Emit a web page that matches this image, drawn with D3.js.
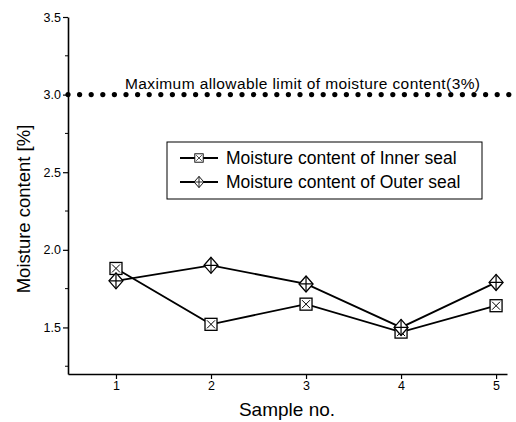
<!DOCTYPE html>
<head>
  <meta charset="utf-8">
  <script src="https://d3js.org/d3.v7.min.js"></script>
  <style>
    body { margin:0; background:#fff; }
    text { font-family: Arial, "Liberation Sans", sans-serif; fill:#000; }
  </style>
</head>
<body>
  <svg id="chart" width="516" height="422"></svg>
  <script>
    // data
    var samples = [1, 2, 3, 4, 5];
    var innerSeal = [1.88, 1.52, 1.65, 1.47, 1.64];
    var outerSeal = [1.80, 1.90, 1.78, 1.50, 1.79];
    var yTicks = [1.5, 2.0, 2.5, 3.0, 3.5];
    var yMinor = [1.25, 1.75, 2.25, 2.75, 3.25];
    var limitValue = 3.0;
    var limitLabel = "Maximum allowable limit of moisture content(3%)";
    var legendNames = ["Moisture content of Inner seal", "Moisture content of Outer seal"];

    var svg = d3.select("#chart");
    var plotL = 68, plotR = 507, plotT = 17, plotB = 374;

    var x = d3.scaleLinear().domain([0.495, 5.115]).range([plotL, plotR]);
    var y = d3.scaleLinear().domain([1.2, 3.5]).range([plotB, plotT]);

    // limit line made of big dots
    var dots = d3.range(plotL, 514, 11.6);
    svg.append("g").selectAll("circle").data(dots).enter()
      .append("circle")
      .attr("cx", function(d){ return d; })
      .attr("cy", y(limitValue))
      .attr("r", 2.6)
      .attr("fill", "#000");

    svg.append("text")
      .attr("x", 125).attr("y", y(limitValue) - 6)
      .attr("textLength", 355).attr("lengthAdjust", "spacing")
      .style("font-size", "15.5px")
      .text(limitLabel);

    // axes
    var yAxis = d3.axisLeft(y).tickValues(yTicks).tickFormat(d3.format(".1f")).tickSize(5).tickSizeOuter(0);
    var gy = svg.append("g").attr("transform", "translate(" + plotL + ",0)").call(yAxis);
    gy.selectAll("text").style("font-size", "12.5px").attr("x", -7);
    gy.append("g").selectAll("line").data(yMinor).enter()
      .append("line")
      .attr("x1", -3).attr("x2", 0)
      .attr("y1", function(d){ return y(d); }).attr("y2", function(d){ return y(d); })
      .attr("stroke", "#000");

    var xAxis = d3.axisBottom(x).tickValues(samples).tickFormat(d3.format("d")).tickSize(5).tickSizeOuter(0);
    var gx = svg.append("g").attr("transform", "translate(0," + plotB + ")").call(xAxis);
    gx.selectAll("text").style("font-size", "12.5px").attr("y", 7);

    svg.selectAll(".domain").attr("stroke-width", 1.6);
    svg.selectAll(".tick line").attr("stroke-width", 1.2);

    svg.append("text")
      .attr("transform", "translate(30,209) rotate(-90)")
      .attr("text-anchor", "middle")
      .style("font-size", "18.5px")
      .text("Moisture content [%]");

    svg.append("text")
      .attr("x", 287).attr("y", 416)
      .attr("text-anchor", "middle")
      .style("font-size", "19px")
      .text("Sample no.");

    var line = d3.line()
      .x(function(d, i){ return x(samples[i]); })
      .y(function(d){ return y(d); });

    function squareMark(g) {
      g.append("rect").attr("x", -6).attr("y", -6).attr("width", 12).attr("height", 12)
        .attr("fill", "#fff").attr("stroke", "#000").attr("stroke-width", 1.3);
      g.append("path").attr("d", "M-4,-4L4,4M4,-4L-4,4").attr("stroke", "#000").attr("stroke-width", 1);
    }
    function diamondMark(g) {
      g.append("path").attr("d", "M0,-8L7,0L0,8L-7,0Z")
        .attr("fill", "#fff").attr("stroke", "#000").attr("stroke-width", 1.3);
      g.append("path").attr("d", "M0,-8V8M-7,0H7").attr("stroke", "#000").attr("stroke-width", 1.2);
    }

    var series = [innerSeal, outerSeal];
    var markers = [squareMark, diamondMark];
    series.forEach(function(s, k) {
      svg.append("path").datum(s)
        .attr("d", line)
        .attr("fill", "none")
        .attr("stroke", "#000")
        .attr("stroke-width", 1.8);
    });
    series.forEach(function(s, k) {
      s.forEach(function(v, i) {
        var g = svg.append("g").attr("transform", "translate(" + x(samples[i]) + "," + y(v) + ")");
        markers[k](g);
      });
    });

    // legend
    var lg = svg.append("g").attr("transform", "translate(167,142)");
    lg.append("rect").attr("width", 315).attr("height", 57)
      .attr("fill", "#fff").attr("stroke", "#000").attr("stroke-width", 1);
    legendNames.forEach(function(name, k) {
      var yy = 16 + k * 24;
      lg.append("line").attr("x1", 13).attr("x2", 51).attr("y1", yy).attr("y2", yy)
        .attr("stroke", "#000").attr("stroke-width", 1.8);
      var m = lg.append("g").attr("transform", "translate(32," + yy + ") scale(0.7)");
      markers[k](m);
      lg.append("text").attr("x", 59).attr("y", yy + 6)
        .style("font-size", "17.5px")
        .text(name);
    });
  </script>
</body>
